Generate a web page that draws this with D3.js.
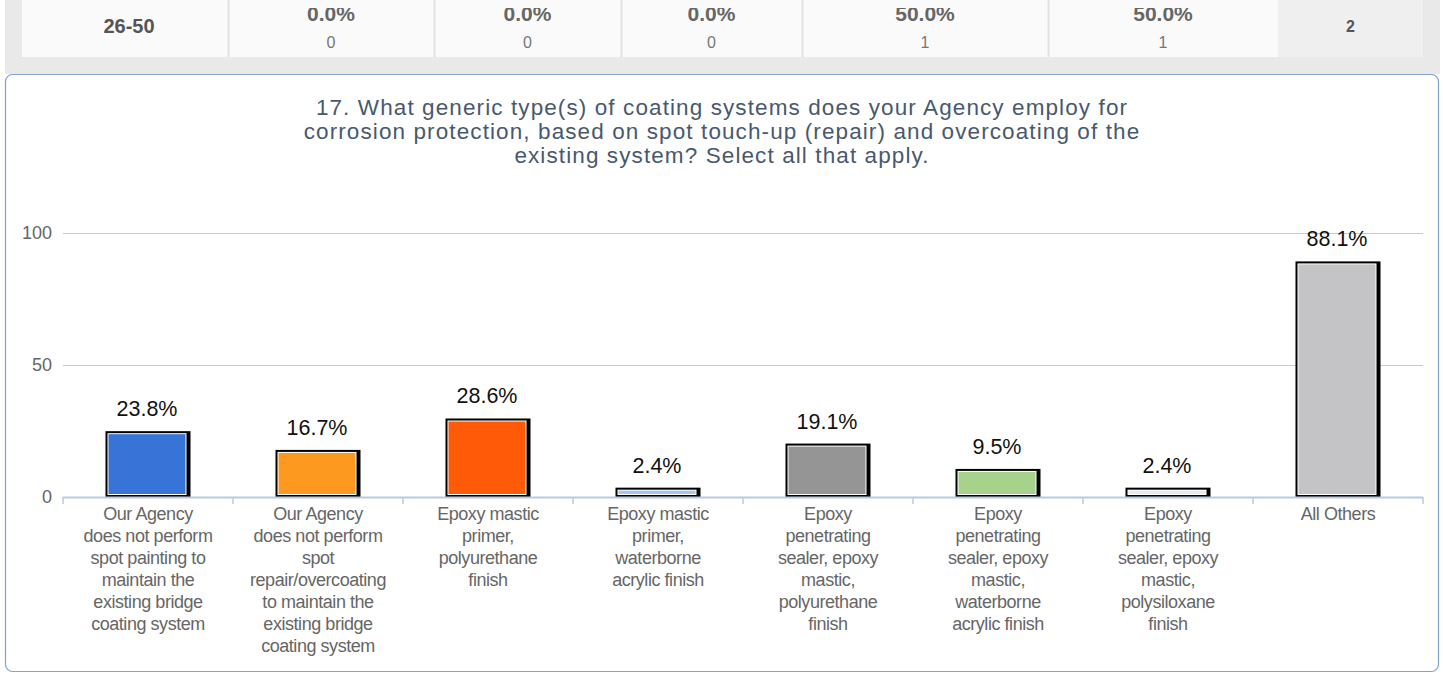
<!DOCTYPE html>
<html>
<head>
<meta charset="utf-8">
<script src="https://cdn.jsdelivr.net/npm/d3@7"></script>
<style>
  body { margin: 0; background: #fff; }
  svg { display: block; font-family: "Liberation Sans", Arial, sans-serif; }
</style>
</head>
<body>
<svg id="chart" width="1443" height="675"></svg>
<script>
// Summary-table row shown above the chart
const rowLabel = "26-50";
const rowPercents = ["0.0%", "0.0%", "0.0%", "50.0%", "50.0%"];
const rowCounts = [0, 0, 0, 1, 1];
const rowTotal = 2;

// Question 17 chart data
const titleLines = [
  "17. What generic type(s) of coating systems does your Agency employ for",
  "corrosion protection, based on spot touch-up (repair) and overcoating of the",
  "existing system? Select all that apply."
];
const categories = [
  "Our Agency\ndoes not perform\nspot painting to\nmaintain the\nexisting bridge\ncoating system",
  "Our Agency\ndoes not perform\nspot\nrepair/overcoating\nto maintain the\nexisting bridge\ncoating system",
  "Epoxy mastic\nprimer,\npolyurethane\nfinish",
  "Epoxy mastic\nprimer,\nwaterborne\nacrylic finish",
  "Epoxy\npenetrating\nsealer, epoxy\nmastic,\npolyurethane\nfinish",
  "Epoxy\npenetrating\nsealer, epoxy\nmastic,\nwaterborne\nacrylic finish",
  "Epoxy\npenetrating\nsealer, epoxy\nmastic,\npolysiloxane\nfinish",
  "All Others"
];
const values = [23.8, 16.7, 28.6, 2.4, 19.1, 9.5, 2.4, 88.1];
const barColors = ["#3874d8", "#fd991f", "#fe5a07", "#a9c3f0", "#959595", "#a6d28c", "#e6e9f6", "#c4c4c6"];
const yTicks = [0, 50, 100];

const svg = d3.select("#chart");

// ---- summary table strip (row scrolled partly out of view at the top) ----
svg.append("rect").attr("x", 5).attr("y", 0).attr("width", 1435).attr("height", 74).attr("fill", "#e9e9e9");
const cellEdges = [22, 228, 434, 621, 802, 1048, 1278, 1423];
svg.append("rect").attr("x", 22).attr("y", 0).attr("width", 1256).attr("height", 57).attr("fill", "#fafafa");
svg.append("rect").attr("x", 1278).attr("y", 0).attr("width", 145).attr("height", 57).attr("fill", "#efefef");
const mid = i => (cellEdges[i] + cellEdges[i + 1]) / 2;
svg.append("text").attr("x", mid(0) + 4).attr("y", 33).attr("text-anchor", "middle")
  .attr("font-size", 20).attr("font-weight", "bold").attr("fill", "#555").text(rowLabel);
rowPercents.forEach((p, i) => {
  svg.append("text").attr("x", mid(i + 1)).attr("y", 21).attr("text-anchor", "middle")
    .attr("font-size", 21).attr("font-weight", "bold").attr("fill", "#666").text(p);
  svg.append("text").attr("x", mid(i + 1)).attr("y", 48).attr("text-anchor", "middle")
    .attr("font-size", 16).attr("fill", "#777").text(rowCounts[i]);
});
// top edge of the scrolled row hides the upper part of the percentages
svg.append("rect").attr("x", 228).attr("y", 0).attr("width", 1050).attr("height", 8).attr("fill", "#fafafa");
cellEdges.slice(1, 6).forEach(x => {
  svg.append("line").attr("x1", x + 0.5).attr("x2", x + 0.5).attr("y1", 0).attr("y2", 57)
    .attr("stroke", "#e2e2e2").attr("stroke-width", 2);
});
svg.append("text").attr("x", mid(6)).attr("y", 32).attr("text-anchor", "middle")
  .attr("font-size", 16).attr("font-weight", "bold").attr("fill", "#555").text(rowTotal);

// ---- chart panel ----
svg.append("rect").attr("x", 5.5).attr("y", 74.5).attr("width", 1433).attr("height", 597)
  .attr("rx", 7).attr("fill", "#fff").attr("stroke", "#7ea3cd").attr("stroke-width", 1.2);

svg.append("g").selectAll("text").data(titleLines).join("text")
  .attr("x", 722).attr("y", (d, i) => 115 + i * 24)
  .attr("text-anchor", "middle").attr("font-size", 22.5).attr("letter-spacing", "1.1")
  .attr("fill", "#48596f").text(d => d);

const plot = { left: 63, right: 1423, top: 233, bottom: 497 };
const x = d3.scaleBand().domain(d3.range(categories.length))
  .range([plot.left, plot.right]).paddingInner(0.5).paddingOuter(0.25);
const y = d3.scaleLinear().domain([0, 100]).range([plot.bottom, plot.top]);

// gridlines
const grid = svg.append("g");
grid.selectAll("line").data(yTicks.filter(t => t > 0)).join("line")
  .attr("x1", plot.left).attr("x2", plot.right)
  .attr("y1", d => Math.round(y(d)) + 0.5).attr("y2", d => Math.round(y(d)) + 0.5)
  .attr("stroke", "#cacaca").attr("stroke-width", 1.2);

// y axis labels
const yAxis = svg.append("g").attr("transform", `translate(${plot.left - 11},0)`)
  .call(d3.axisLeft(y).tickValues(yTicks).tickSize(0).tickPadding(0));
yAxis.select(".domain").remove();
yAxis.selectAll("text").attr("font-size", 18).attr("fill", "#666")
  .attr("font-family", "Liberation Sans, Arial, sans-serif");

// bars: black frame with heavier right edge, thin white inner line, coloured fill
const bars = svg.append("g").selectAll("g").data(values).join("g");
const bw = x.bandwidth();
bars.append("rect")
  .attr("x", (d, i) => x(i)).attr("y", d => y(d) - 3)
  .attr("width", bw).attr("height", d => y(0) - y(d) + 3).attr("fill", "#000");
bars.append("rect")
  .attr("x", (d, i) => x(i) + 2).attr("y", d => y(d) - 1)
  .attr("width", bw - 6).attr("height", d => y(0) - y(d) - 1).attr("fill", "#fff");
bars.append("rect")
  .attr("x", (d, i) => x(i) + 3).attr("y", d => y(d))
  .attr("width", bw - 8).attr("height", d => Math.max(0, y(0) - y(d) - 3))
  .attr("fill", (d, i) => barColors[i]);

// value labels
svg.append("g").selectAll("text").data(values).join("text")
  .attr("x", (d, i) => x(i) + bw / 2 - 1).attr("y", d => y(d) - 18)
  .attr("text-anchor", "middle").attr("font-size", 21.5).attr("fill", "#111")
  .text(d => d.toFixed(1) + "%");

// x axis baseline and ticks
const xAxis = svg.append("g").attr("transform", `translate(0,${plot.bottom})`);
xAxis.append("line").attr("x1", plot.left).attr("x2", plot.right).attr("y1", 0.5).attr("y2", 0.5)
  .attr("stroke", "#b9cbe0").attr("stroke-width", 2);
const edges = d3.range(categories.length + 1).map(i => plot.left + i * x.step());
xAxis.selectAll("line.tick").data(edges).join("line").attr("class", "tick")
  .attr("x1", d => d).attr("x2", d => d).attr("y1", 0).attr("y2", 7)
  .attr("stroke", "#b9cbe0").attr("stroke-width", 1.5);

// category labels
const labels = svg.append("g").selectAll("text").data(categories).join("text")
  .attr("text-anchor", "middle").attr("font-size", 18).attr("fill", "#666")
  .attr("letter-spacing", "-0.45")
  .attr("transform", (d, i) => `translate(${x(i) + bw / 2},${plot.bottom + 23})`);
labels.selectAll("tspan").data(d => d.split("\n")).join("tspan")
  .attr("x", 0).attr("dy", (d, i) => i === 0 ? 0 : 22).text(d => d);
</script>
</body>
</html>
